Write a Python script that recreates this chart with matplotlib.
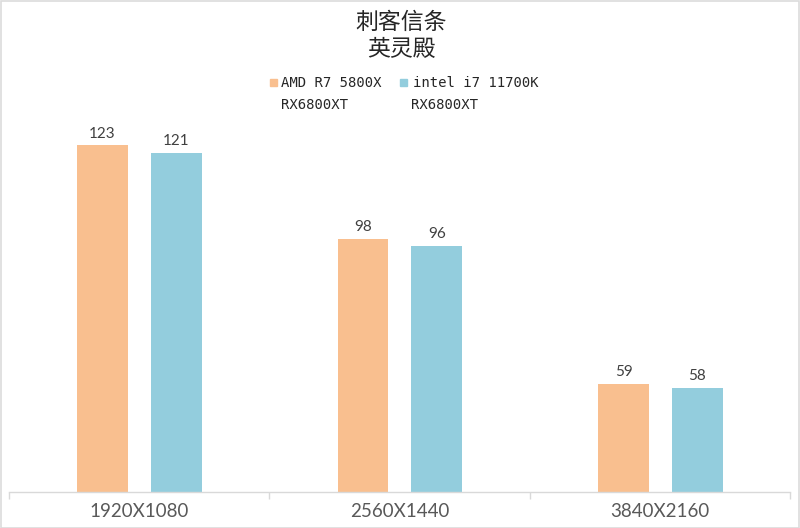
import matplotlib
matplotlib.use("Agg")
import matplotlib.pyplot as plt
from matplotlib.patches import Rectangle
import numpy as np

categories = ["1920X1080", "2560X1440", "3840X2160"]
amd_values = [123, 98, 59]
intel_values = [121, 96, 58]
series_names = ["AMD R7 5800X\nRX6800XT", "intel i7 11700K\nRX6800XT"]
title_lines = ["刺客信条", "英灵殿"]

W, H = 800, 528
fig = plt.figure(figsize=(W / 100, H / 100), dpi=100)
fig.patch.set_facecolor("white")

# figure frame
fig.add_artist(Rectangle((0.5 / W, 0.5 / H), (W - 1.5) / W, (H - 1.5) / H,
                         transform=fig.transFigure, fill=False,
                         edgecolor="#DCDCDC", linewidth=1.2))

ax_left, ax_right = 8.5, 790.5
ax_bottom, ax_top = 492, 82
ax = fig.add_axes([ax_left / W, 1 - ax_bottom / H,
                   (ax_right - ax_left) / W, (ax_bottom - ax_top) / H])

orange = "#F9BF8F"
blue = "#93CDDD"
x = np.arange(len(categories))
w = 0.195
b1 = ax.bar(x - 0.14, amd_values, w, color=orange, label=series_names[0])
b2 = ax.bar(x + 0.143, intel_values, w, color=blue, label=series_names[1])

ax.set_ylim(30, 140)
ax.set_xlim(-0.5, 2.5)

lab_font = ["Lato", "DejaVu Sans"]
for bars, vals in ((b1, amd_values), (b2, intel_values)):
    for r, v in zip(bars, vals):
        ax.annotate(str(v), (r.get_x() + r.get_width() / 2, v),
                    xytext=(0, 3.5), textcoords="offset points",
                    ha="center", va="bottom", fontsize=11,
                    color="#404040", family=lab_font)

for s in ("left", "right", "top"):
    ax.spines[s].set_visible(False)
ax.spines["bottom"].set_color("#D9D9D9")
ax.spines["bottom"].set_linewidth(1.0)
ax.set_yticks([])
ax.set_xticks([-0.5, 0.5, 1.5, 2.5])
ax.set_xticklabels([])
ax.tick_params(axis="x", length=5, color="#D9D9D9", width=1.0, direction="out")
ax.set_xticks(x, minor=True)
ax.set_xticklabels(categories, minor=True, fontsize=13.5, color="#595959",
                   family=lab_font, fontweight="normal")
ax.tick_params(axis="x", which="minor", length=0, pad=8)

# title
cjk = ["Noto Sans CJK SC", "DejaVu Sans"]
fig.text(401 / W, 1 - 22 / H, title_lines[0], ha="center", va="center",
         fontsize=16.5, color="#262626", family=cjk, fontweight="medium")
fig.text(401 / W, 1 - 50 / H, title_lines[1], ha="center", va="center",
         fontsize=16.5, color="#262626", family=cjk, fontweight="medium")

# legend (manual)
for (sx, tx, tx2, col, name) in ((270, 281, 281, orange, series_names[0]),
                                 (400, 413, 411, blue, series_names[1])):
    fig.add_artist(Rectangle((sx / W, 1 - 86 / H), 7 / W, 7 / H,
                             transform=fig.transFigure, color=col))
    l1, l2 = name.split("\n")
    fig.text(tx / W, 1 - 83 / H, l1, ha="left", va="center", fontsize=10,
             color="#262626", family=["DejaVu Sans Mono"])
    fig.text(tx2 / W, 1 - 105 / H, l2, ha="left",
             va="center", fontsize=10, color="#262626",
             family=["DejaVu Sans Mono"])

fig.savefig("out.png", dpi=100, facecolor="white")
